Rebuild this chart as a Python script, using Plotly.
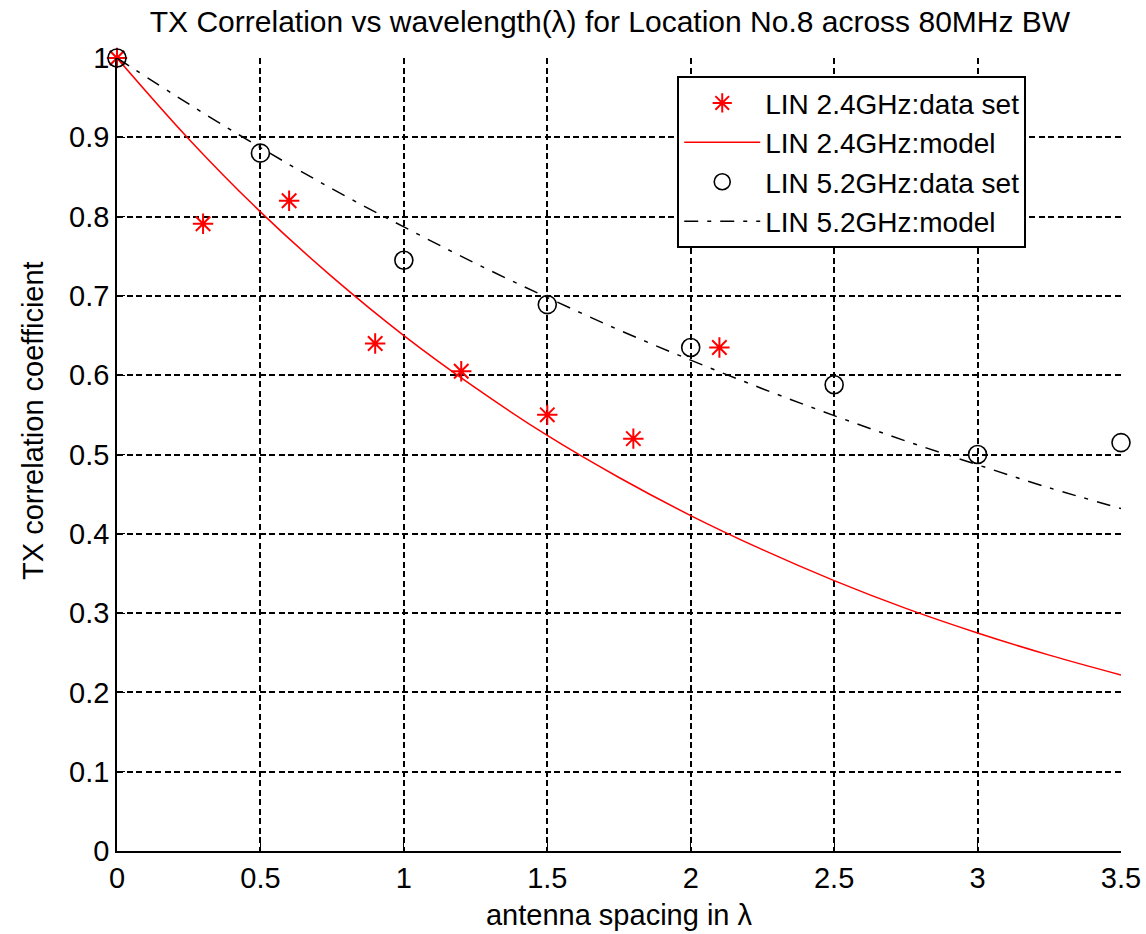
import plotly.graph_objects as go

# Data
x_24_data = [0, 0.3, 0.6, 0.9, 1.2, 1.5, 1.8, 2.1]
y_24_data = [1.0, 0.791, 0.820, 0.640, 0.605, 0.550, 0.520, 0.635]

x_52_data = [0, 0.5, 1.0, 1.5, 2.0, 2.5, 3.0, 3.5]
y_52_data = [1.0, 0.880, 0.745, 0.689, 0.635, 0.588, 0.500, 0.515]

x_model = [0, 0.25, 0.5, 0.75, 1.0, 1.25, 1.5, 1.75, 2.0, 2.25, 2.5, 2.75, 3.0, 3.25, 3.5]
y_24_model = [1.0, 0.898, 0.806, 0.724, 0.650, 0.584, 0.524, 0.471, 0.423, 0.380, 0.341, 0.306, 0.275, 0.247, 0.222]
y_52_model = [1.0, 0.942, 0.887, 0.835, 0.787, 0.741, 0.698, 0.657, 0.619, 0.583, 0.549, 0.517, 0.487, 0.458, 0.432]

x_ticks = [0, 0.5, 1, 1.5, 2, 2.5, 3, 3.5]
x_tick_labels = ["0", "0.5", "1", "1.5", "2", "2.5", "3", "3.5"]
y_ticks = [0, 0.1, 0.2, 0.3, 0.4, 0.5, 0.6, 0.7, 0.8, 0.9, 1.0]
y_tick_labels = ["0", "0.1", "0.2", "0.3", "0.4", "0.5", "0.6", "0.7", "0.8", "0.9", "1"]

FONT = "Liberation Sans, Arial, sans-serif"

fig = go.Figure()
fig.add_trace(go.Scatter(
    x=x_24_data, y=y_24_data, mode="markers", name="LIN 2.4GHz:data set",
    legendgroup="a",
    marker=dict(symbol="asterisk-open", size=17, color="red",
                line=dict(color="red", width=2)),
    cliponaxis=False,
))
fig.add_trace(go.Scatter(
    x=x_model, y=y_24_model, mode="lines", name="LIN 2.4GHz:model",
    legendgroup="b",
    line=dict(color="red", width=1.5, shape="spline"),
))
fig.add_trace(go.Scatter(
    x=x_52_data, y=y_52_data, mode="markers", name="LIN 5.2GHz:data set",
    legendgroup="c",
    marker=dict(symbol="circle-open", size=18, color="black",
                line=dict(color="black", width=1.6)),
    cliponaxis=False,
))
fig.add_trace(go.Scatter(
    x=x_model, y=y_52_model, mode="lines", name="LIN 5.2GHz:model",
    legendgroup="d",
    line=dict(color="black", width=1.5, shape="spline", dash="14px,9px,4px,9px"),
))

fig.update_layout(
    width=1146, height=934,
    margin=dict(l=117, r=25, t=58, b=83, autoexpand=False),
    paper_bgcolor="white", plot_bgcolor="white",
    font=dict(family=FONT, size=29, color="black"),
    title=dict(text="TX Correlation vs wavelength(λ) for Location No.8 across 80MHz BW",
               x=0.491, xanchor="center", y=0.977, yanchor="middle",
               xref="paper", yref="container",
               font=dict(family=FONT, size=30, color="black")),
    showlegend=True,
    legend=dict(x=0.558, y=0.977, xanchor="left", yanchor="top",
                bgcolor="white", bordercolor="black", borderwidth=2,
                font=dict(family=FONT, size=28, color="black"),
                tracegroupgap=0, itemwidth=76),
    annotations=[dict(
        text="TX correlation coefficient", textangle=-90,
        xref="paper", yref="paper", x=-0.0837, y=0.5435,
        xanchor="center", yanchor="middle", showarrow=False,
        font=dict(family=FONT, size=29, color="black"),
    )],
)
fig.update_xaxes(
    range=[0, 3.5], tickvals=x_ticks, ticktext=x_tick_labels,
    showline=True, linecolor="black", linewidth=1.5, mirror=False,
    ticks="inside", ticklen=8, tickcolor="black",
    showgrid=True, gridcolor="black", gridwidth=1.5, griddash="6px,3.5px",
    zeroline=False, automargin=False,
    title=dict(text="antenna spacing in λ", standoff=12,
               font=dict(family=FONT, size=29)),
)
fig.update_yaxes(
    range=[0, 1], tickvals=y_ticks, ticktext=y_tick_labels,
    showline=True, linecolor="black", linewidth=1.5, mirror=False,
    ticks="inside", ticklen=8, tickcolor="black",
    showgrid=True, gridcolor="black", gridwidth=1.5, griddash="6px,3.5px",
    zeroline=False, automargin=False,
)

fig.write_html("out.html")
